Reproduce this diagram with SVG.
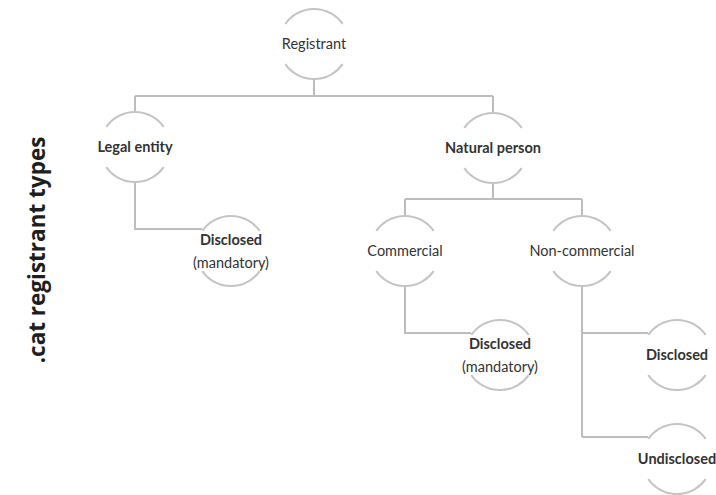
<svg xmlns="http://www.w3.org/2000/svg" width="716" height="495" viewBox="0 0 716 495">
<style>
.arc{fill:none;stroke:#c4c4c4;stroke-width:2}
.con{fill:none;stroke:#bdbdbd;stroke-width:2}
.lbl{font-family:Lato,"Open Sans",sans-serif;font-size:14.5px;fill:#333333;text-anchor:middle}
.b{font-weight:bold}
.side{font-family:"Open Sans","Liberation Sans",sans-serif;font-weight:bold;font-size:22.5px;fill:#1e1e1e;text-anchor:middle}
</style>
<defs>
<g id="ring">
<path class="arc" d="M-28.7,-20.1 A35,35 0 0 1 28.7,-20.1"/>
<path class="arc" d="M-28.7,20.1 A35,35 0 0 0 28.7,20.1"/>
</g>
</defs>
<rect width="716" height="495" fill="#ffffff"/>
<text class="side" transform="translate(45,250) rotate(-90)">.cat registrant types</text>
<g id="connectors">
<path class="con" d="M314,79 V96 M135,96 H493 M135,96 V112 M493,96 V113"/>
<path class="con" d="M135,182 V229 H202"/>
<path class="con" d="M493,183 V199 M405,199 H582 M405,199 V216 M582,199 V216"/>
<path class="con" d="M405,286 V333 H471"/>
<path class="con" d="M582,286 V437 M582,333 H648 M582,437 H648"/>
</g>
<g id="registrant"><use href="#ring" x="314" y="44"/><text class="lbl" x="314" y="49">Registrant</text></g>
<g id="legal-entity"><use href="#ring" x="135" y="147"/><text class="lbl b" x="135" y="152">Legal entity</text></g>
<g id="natural-person"><use href="#ring" x="493" y="148"/><text class="lbl b" x="493" y="153">Natural person</text></g>
<g id="legal-disclosed"><use href="#ring" x="231" y="251"/><text class="lbl b" x="231" y="245">Disclosed</text><text class="lbl" x="231" y="268">(mandatory)</text></g>
<g id="commercial"><use href="#ring" x="405" y="251"/><text class="lbl" x="405" y="256">Commercial</text></g>
<g id="non-commercial"><use href="#ring" x="582" y="251"/><text class="lbl" x="582" y="256">Non-commercial</text></g>
<g id="commercial-disclosed"><use href="#ring" x="500" y="355"/><text class="lbl b" x="500" y="349">Disclosed</text><text class="lbl" x="500" y="372">(mandatory)</text></g>
<g id="noncommercial-disclosed"><use href="#ring" x="677" y="355"/><text class="lbl b" x="677" y="360">Disclosed</text></g>
<g id="undisclosed"><use href="#ring" x="677" y="459"/><text class="lbl b" x="677" y="464">Undisclosed</text></g>
</svg>
